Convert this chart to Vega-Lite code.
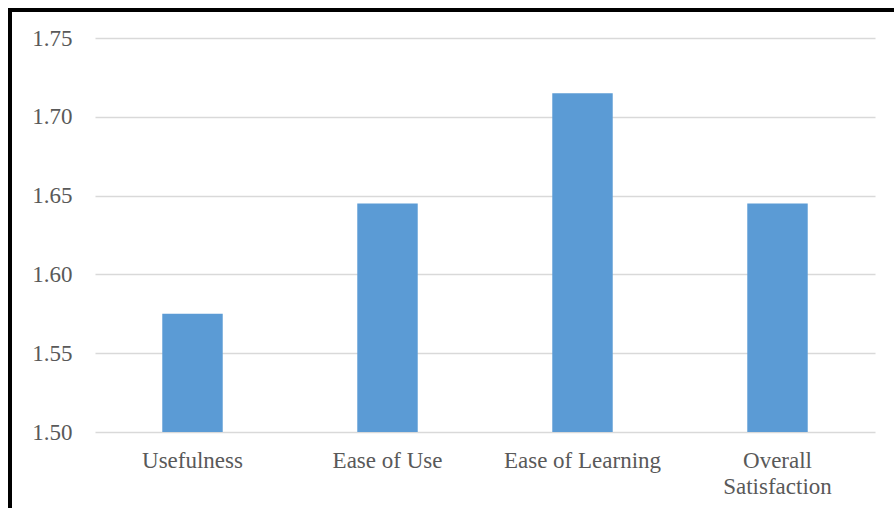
{
  "$schema": "https://vega.github.io/schema/vega-lite/v6.json",
  "autosize": {"type": "none"},
  "width": 890,
  "height": 510,
  "padding": {"left": 10, "top": 10, "right": -6, "bottom": -12},
  "background": "#ffffff",
  "config": {
    "view": {"stroke": "#000000", "strokeWidth": 4},
    "font": "'Liberation Serif', 'Times New Roman', serif"
  },
  "data": {
    "values": [
      {"category": "Usefulness", "value": 1.575},
      {"category": "Ease of Use", "value": 1.645},
      {"category": "Ease of Learning", "value": 1.715},
      {"category": "Overall Satisfaction", "value": 1.645}
    ]
  },
  "mark": {"type": "bar", "color": "#5b9bd5"},
  "encoding": {
    "x": {
      "field": "category",
      "type": "nominal",
      "sort": null,
      "scale": {"range": [85, 865], "paddingInner": 0.69, "paddingOuter": 0.345},
      "axis": {
        "title": null,
        "labelAngle": 0,
        "domain": false,
        "ticks": false,
        "tickSize": 0,
        "offset": -72,
        "labelPadding": 1,
        "labelFont": "'Liberation Serif', 'Times New Roman', serif",
        "labelFontSize": 23,
        "labelColor": "#595959",
        "labelLineHeight": 26,
        "labelExpr": "datum.label == 'Overall Satisfaction' ? ['Overall', 'Satisfaction'] : datum.label"
      }
    },
    "y": {
      "field": "value",
      "type": "quantitative",
      "scale": {"domain": [1.5, 1.75], "range": [422, 28], "zero": false},
      "axis": {
        "title": null,
        "values": [1.5, 1.55, 1.6, 1.65, 1.7, 1.75],
        "format": ".2f",
        "domain": false,
        "ticks": false,
        "tickSize": 0,
        "offset": -70,
        "labelPadding": 8,
        "labelFont": "'Liberation Serif', 'Times New Roman', serif",
        "labelFontSize": 23,
        "labelColor": "#595959",
        "grid": true,
        "gridColor": "#d9d9d9",
        "gridWidth": 1.5
      }
    },
    "y2": {"datum": 1.5}
  }
}
